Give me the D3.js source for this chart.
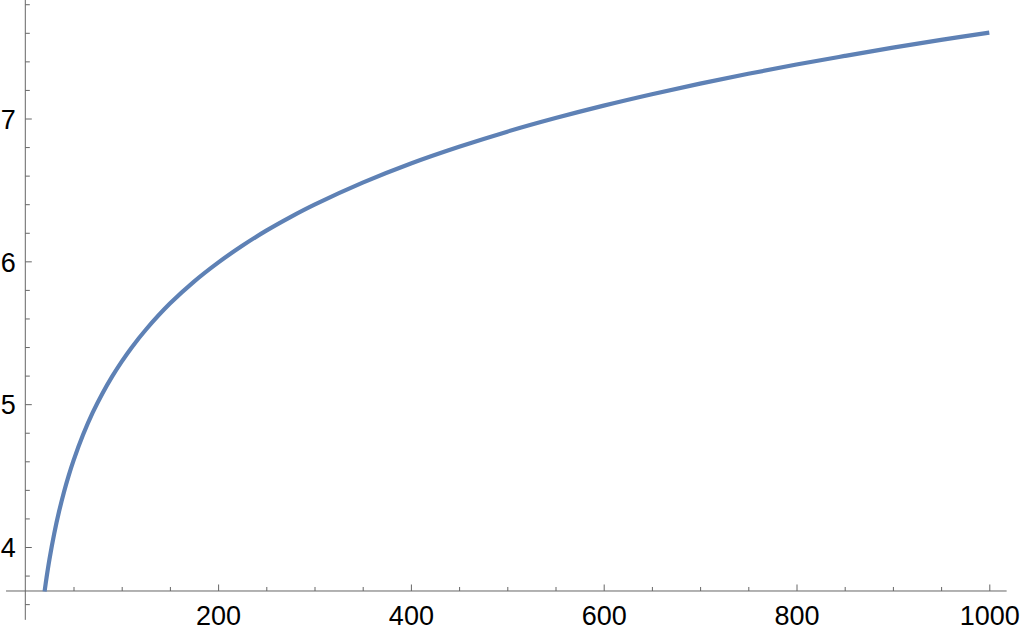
<!DOCTYPE html>
<html><head><meta charset="utf-8">
<script src="https://cdn.jsdelivr.net/npm/d3@7"></script>
<style>body{margin:0;background:#fff}svg{display:block}</style>
</head><body>
<svg id="c" width="1020" height="632"></svg>
<script>
// data
const xs = [20,22,25,30,35,40,45,50,60,70,80,90,100,110,125,150,175,200,225,250,275,300,350,400,450,500,550,600,650,700,750,800,850,900,950,1000];
const ys = [3.689,3.784,3.912,4.094,4.248,4.382,4.500,4.605,4.787,4.942,5.075,5.193,5.298,5.394,5.521,5.704,5.858,5.991,6.109,6.215,6.310,6.397,6.551,6.685,6.802,6.908,7.003,7.090,7.170,7.244,7.313,7.378,7.438,7.496,7.550,7.601];
const xMajor = [200,400,600,800,1000];
const xMinor = [50,100,150,250,300,350,450,500,550,650,700,750,850,900,950];
const yMajor = [4,5,6,7];
const yMinor = [3.6,3.8,4.2,4.4,4.6,4.8,5.2,5.4,5.6,5.8,6.2,6.4,6.6,6.8,7.2,7.4,7.6,7.8];
const xRange = [-20,1018];
const yRange = [3.49,7.83];
const yCross = 3.692;

const svg = d3.select('#c');
const x = d3.scaleLinear().domain([0,1000]).range([25.3,989.3]);
const y = d3.scaleLinear().domain([4,7]).range([547,118.5]);
const axisCol = '#666';
const font = '"Liberation Sans",Arial,sans-serif';

// x axis
const gx = svg.append('g').attr('transform',`translate(0,${y(yCross)})`);
gx.call(d3.axisBottom(x).tickValues(xMinor).tickSize(-4).tickFormat(''));
const gx2 = svg.append('g').attr('transform',`translate(0,${y(yCross)})`);
gx2.call(d3.axisBottom(x).tickValues(xMajor).tickSize(-6.5).tickPadding(0).tickFormat(d3.format('d')));
[gx,gx2].forEach(g=>{g.select('.domain').remove();g.selectAll('line').attr('stroke',axisCol);});
gx2.selectAll('text').attr('y',34).attr('dy',0).attr('fill','#000')
  .style('font-family',font).style('font-size','27px');
svg.append('line').attr('x1',x(xRange[0])).attr('x2',x(xRange[1]))
  .attr('y1',y(yCross)).attr('y2',y(yCross)).attr('stroke',axisCol);

// y axis
const gy = svg.append('g').attr('transform',`translate(${x(0)},0)`);
gy.call(d3.axisRight(y).tickValues(yMinor).tickSize(4.5).tickFormat(''));
const gy2 = svg.append('g').attr('transform',`translate(${x(0)},0)`);
gy2.call(d3.axisRight(y).tickValues(yMajor).tickSize(6.5).tickFormat(d3.format('d')));
[gy,gy2].forEach(g=>{g.select('.domain').remove();g.selectAll('line').attr('stroke',axisCol);});
gy2.selectAll('text').attr('x',-9.5).attr('dy','0.36em').attr('text-anchor','end').attr('fill','#000')
  .style('font-family',font).style('font-size','27px');
svg.append('line').attr('x1',x(0)).attr('x2',x(0))
  .attr('y1',y(yRange[0])).attr('y2',y(yRange[1])).attr('stroke',axisCol);

// curve
const pts = xs.map((v,i)=>[v,ys[i]]);
svg.append('path').datum(pts)
  .attr('d',d3.line().x(d=>x(d[0])).y(d=>y(d[1])).curve(d3.curveCatmullRom.alpha(0.5)))
  .attr('fill','none').attr('stroke','#5e81b5').attr('stroke-width',4.2)
  .attr('stroke-linejoin','round');
</script>
</body></html>
